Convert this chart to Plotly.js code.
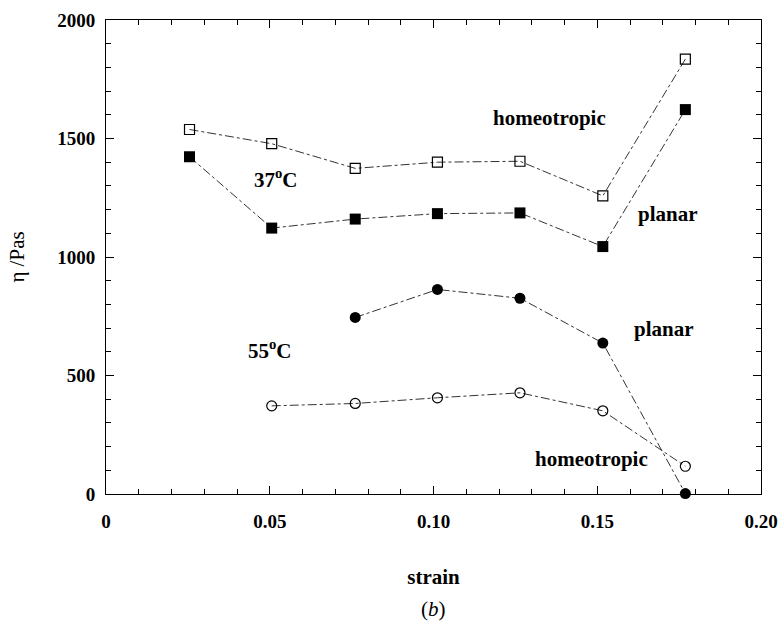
<!DOCTYPE html>
<html>
<head>
<meta charset="utf-8">
<script src="https://cdn.plot.ly/plotly-3.0.1.min.js"></script>
<style>html,body{margin:0;padding:0;background:#fff;}#chart{width:781px;height:624px;}</style>
</head>
<body>
<div id="chart"></div>
<script>
const strainH37 = [0.0255, 0.0506, 0.0761, 0.1012, 0.1264, 0.1517, 0.1769];
const etaH37 = [1538, 1478, 1374, 1400, 1404, 1258, 1835];
const strainP37 = [0.0255, 0.0506, 0.0761, 0.1012, 0.1264, 0.1517, 0.1769];
const etaP37 = [1423, 1122, 1160, 1183, 1186, 1044, 1622];
const strainP55 = [0.0761, 0.1012, 0.1264, 0.1517, 0.1769];
const etaP55 = [745, 863, 826, 637, 2];
const strainH55 = [0.0506, 0.0761, 0.1012, 0.1264, 0.1517, 0.1769];
const etaH55 = [372, 382, 406, 427, 351, 117];
const xTickVals = [0, 0.05, 0.10, 0.15, 0.20];
const xTickText = ['0', '0.05', '0.10', '0.15', '0.20'];
const yTickVals = [0, 500, 1000, 1500, 2000];
const yTickText = ['0', '500', '1000', '1500', '2000'];

const serif = '"Liberation Serif", "Times New Roman", Times, serif';
const lineStyle = {color: '#333', width: 1, dash: 'dashdot'};

const traces = [
  {x: strainH37, y: etaH37, mode: 'lines+markers', name: 'homeotropic 37°C', line: lineStyle,
   marker: {symbol: 'square-open', size: 10, color: '#000', line: {width: 1.2, color: '#000'}}},
  {x: strainP37, y: etaP37, mode: 'lines+markers', name: 'planar 37°C', line: lineStyle,
   marker: {symbol: 'square', size: 11, color: '#000'}},
  {x: strainP55, y: etaP55, mode: 'lines+markers', name: 'planar 55°C', line: lineStyle,
   marker: {symbol: 'circle', size: 11, color: '#000'}, cliponaxis: false},
  {x: strainH55, y: etaH55, mode: 'lines+markers', name: 'homeotropic 55°C', line: lineStyle,
   marker: {symbol: 'circle-open', size: 10, color: '#000', line: {width: 1.2, color: '#000'}}}
];

const annFont = {family: serif, size: 21, color: '#000', weight: 'bold'};
const layout = {
  width: 781, height: 624,
  margin: {l: 106, r: 20, t: 20, b: 130},
  paper_bgcolor: '#fff', plot_bgcolor: '#fff',
  showlegend: false,
  font: {family: serif, color: '#000'},
  xaxis: {
    range: [0, 0.20], showgrid: false, zeroline: false,
    showline: true, linecolor: '#000', linewidth: 1, mirror: 'ticks',
    ticks: 'inside', ticklen: 8, tickcolor: '#000', tickwidth: 1,
    tickvals: xTickVals, ticktext: xTickText,
    tickfont: {family: serif, size: 19, color: '#000', weight: 'bold'},
    ticklabelstandoff: 10,
    minor: {dtick: 0.01, ticks: 'inside', ticklen: 5, tickcolor: '#000', showgrid: false},
    title: {text: 'strain', font: {family: serif, size: 21, color: '#000', weight: 'bold'}, standoff: 38}
  },
  yaxis: {
    range: [0, 2000], showgrid: false, zeroline: false,
    showline: true, linecolor: '#000', linewidth: 1, mirror: 'ticks',
    ticks: 'inside', ticklen: 8, tickcolor: '#000', tickwidth: 1,
    tickvals: yTickVals, ticktext: yTickText,
    tickfont: {family: serif, size: 19, color: '#000', weight: 'bold'},
    ticklabelstandoff: 6,
    minor: {dtick: 100, ticks: 'inside', ticklen: 5, tickcolor: '#000', showgrid: false},
    title: {text: 'η /Pas', font: {family: serif, size: 21, color: '#000'}, standoff: 26}
  },
  annotations: [
    {x: 0.1355, y: 1588, xref: 'x', yref: 'y', text: 'homeotropic', showarrow: false, font: annFont},
    {x: 0.052, y: 1330, xref: 'x', yref: 'y', text: '37<sup>o</sup>C', showarrow: false, font: annFont},
    {x: 0.1716, y: 1183, xref: 'x', yref: 'y', text: 'planar', showarrow: false, font: annFont},
    {x: 0.1703, y: 697, xref: 'x', yref: 'y', text: 'planar', showarrow: false, font: annFont},
    {x: 0.0502, y: 609, xref: 'x', yref: 'y', text: '55<sup>o</sup>C', showarrow: false, font: annFont},
    {x: 0.1483, y: 146, xref: 'x', yref: 'y', text: 'homeotropic', showarrow: false, font: annFont},
    {x: 0.5, y: 0, xref: 'paper', yref: 'paper', yanchor: 'middle', text: '(<i>b</i>)', showarrow: false,
     font: {family: serif, size: 21, color: '#000'}}
  ]
};
layout.annotations[6].y = 1 - (609 - 20) / (624 - 20 - 130);

Plotly.newPlot('chart', traces, layout, {displayModeBar: false, staticPlot: true});
</script>
</body>
</html>
